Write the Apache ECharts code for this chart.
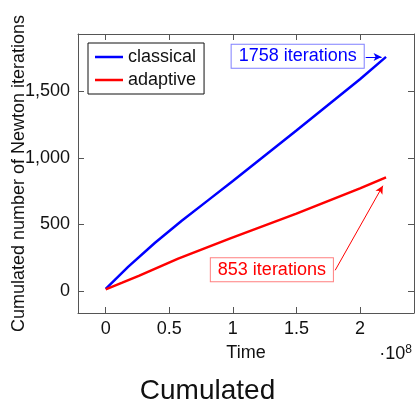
<!DOCTYPE html>
<html>
<head>
<meta charset="utf-8">
<script src="https://cdn.jsdelivr.net/npm/echarts@6/dist/echarts.min.js"></script>
<style>
  html, body { margin: 0; padding: 0; background: #fff; }
  #chart { width: 415px; height: 407px; }
</style>
</head>
<body>
<div id="chart"></div>
<script>
var chart = echarts.init(document.getElementById('chart'));

// data (time in seconds)
var timeClassical = [0, 0.178e8, 0.388e8, 0.598e8, 0.807e8, 1e8, 1.5e8, 2e8, 2.205e8];
var itersClassical = [15, 182, 362, 527, 682, 825, 1205, 1590, 1758];
var timeAdaptive = [0, 0.13e8, 0.26e8, 0.57e8, 0.98e8, 1.5e8, 2e8, 2.205e8];
var itersAdaptive = [12, 62, 113, 242, 395, 580, 770, 853];
var xTicks = [0, 0.5e8, 1e8, 1.5e8, 2e8];
var yTicks = [0, 500, 1000, 1500];

var font = 'Liberation Sans';
var frame = '#555';

function pairs(xs, ys) {
    return xs.map(function (x, i) { return [x, ys[i]]; });
}

function axisBase(min, max, ticks) {
    return {
        type: 'value',
        min: min,
        max: max,
        splitLine: { show: false },
        axisLine: { show: true, onZero: false, lineStyle: { color: frame, width: 1 } },
        axisTick: { show: true, inside: true, length: 6, customValues: ticks, lineStyle: { color: frame } }
    };
}

var xBottom = axisBase(-0.218e8, 2.425e8, xTicks);
xBottom.position = 'bottom';
xBottom.name = 'Time';
xBottom.nameLocation = 'middle';
xBottom.nameGap = 31;
xBottom.nameMoveOverlap = false;
xBottom.nameTextStyle = { fontFamily: font, fontSize: 18, color: '#111' };
xBottom.axisLabel = {
    customValues: xTicks, margin: 7, fontFamily: font, fontSize: 18, color: '#111',
    formatter: function (v) { return String(v / 1e8); }
};
var xTop = axisBase(-0.218e8, 2.425e8, xTicks);
xTop.position = 'top';
xTop.axisLabel = { show: false };

var yLeft = axisBase(-166, 1930, yTicks);
yLeft.position = 'left';
yLeft.name = 'Cumulated number of Newton iterations';
yLeft.nameLocation = 'middle';
yLeft.nameGap = 50;
yLeft.nameMoveOverlap = false;
yLeft.nameTextStyle = { fontFamily: font, fontSize: 18, color: '#111' };
yLeft.axisLabel = {
    customValues: yTicks, margin: 8, fontFamily: font, fontSize: 18, color: '#111',
    formatter: function (v) { return v.toLocaleString('en-US'); }
};
var yRight = axisBase(-166, 1930, yTicks);
yRight.position = 'right';
yRight.axisLabel = { show: false };

function note(text, color, border, at) {
    return {
        symbolSize: 1,
        itemStyle: { color: 'rgba(0,0,0,0)' },
        label: {
            show: true, position: 'inside', formatter: text,
            fontFamily: font, fontSize: 18, color: color,
            backgroundColor: '#fff', borderColor: border, borderWidth: 1,
            padding: [3, 7, 2, 7]
        },
        data: [{ coord: at }]
    };
}

function arrow(color, from, to) {
    return {
        silent: true,
        symbol: ['none', 'arrow'],
        symbolSize: [6, 8],
        label: { show: false },
        lineStyle: { color: color, width: 1, type: 'solid' },
        data: [[{ coord: from }, { coord: to }]]
    };
}

var option = {
    animation: false,
    grid: { left: 78, right: 1, top: 34, bottom: 94, containLabel: false, outerBoundsMode: 'none' },
    title: {
        text: 'Cumulated',
        left: 'center',
        top: 372,
        textStyle: { fontFamily: font, fontSize: 28, fontWeight: 'normal', color: '#111' }
    },
    legend: {
        orient: 'vertical',
        left: 88,
        top: 43,
        padding: [5, 8, 5, 7],
        icon: 'rect',
        itemWidth: 28,
        itemHeight: 2.5,
        itemGap: 5,
        borderColor: '#111',
        borderWidth: 1,
        backgroundColor: '#fff',
        textStyle: { fontFamily: font, fontSize: 18, color: '#111' },
        data: ['classical', 'adaptive']
    },
    xAxis: [xBottom, xTop],
    yAxis: [yLeft, yRight],
    graphic: [{
        type: 'text',
        right: 3,
        top: 344,
        style: {
            text: '·10{s|8}',
            fontFamily: font, fontSize: 18, fill: '#111',
            rich: { s: { fontFamily: font, fontSize: 12, verticalAlign: 'top', padding: [0, 0, 8, 0] } }
        }
    }],
    series: [{
        name: 'classical',
        type: 'line',
        symbol: 'none',
        lineStyle: { color: '#0000ff', width: 2.5 },
        itemStyle: { color: '#0000ff' },
        data: pairs(timeClassical, itersClassical),
        markPoint: note('1758 iterations', '#0000ff', 'rgba(0,0,255,0.5)', [1.51e8, 1758]),
        markLine: arrow('#0000ff', [2.045e8, 1758], [2.17e8, 1758])
    }, {
        name: 'adaptive',
        type: 'line',
        symbol: 'none',
        lineStyle: { color: '#ff0000', width: 2.5 },
        itemStyle: { color: '#ff0000' },
        data: pairs(timeAdaptive, itersAdaptive),
        markPoint: note('853 iterations', '#ff0000', 'rgba(255,0,0,0.5)', [1.307e8, 155]),
        markLine: arrow('#ff0000', [1.805e8, 155], [2.18e8, 790])
    }]
};

chart.setOption(option);
</script>
</body>
</html>
